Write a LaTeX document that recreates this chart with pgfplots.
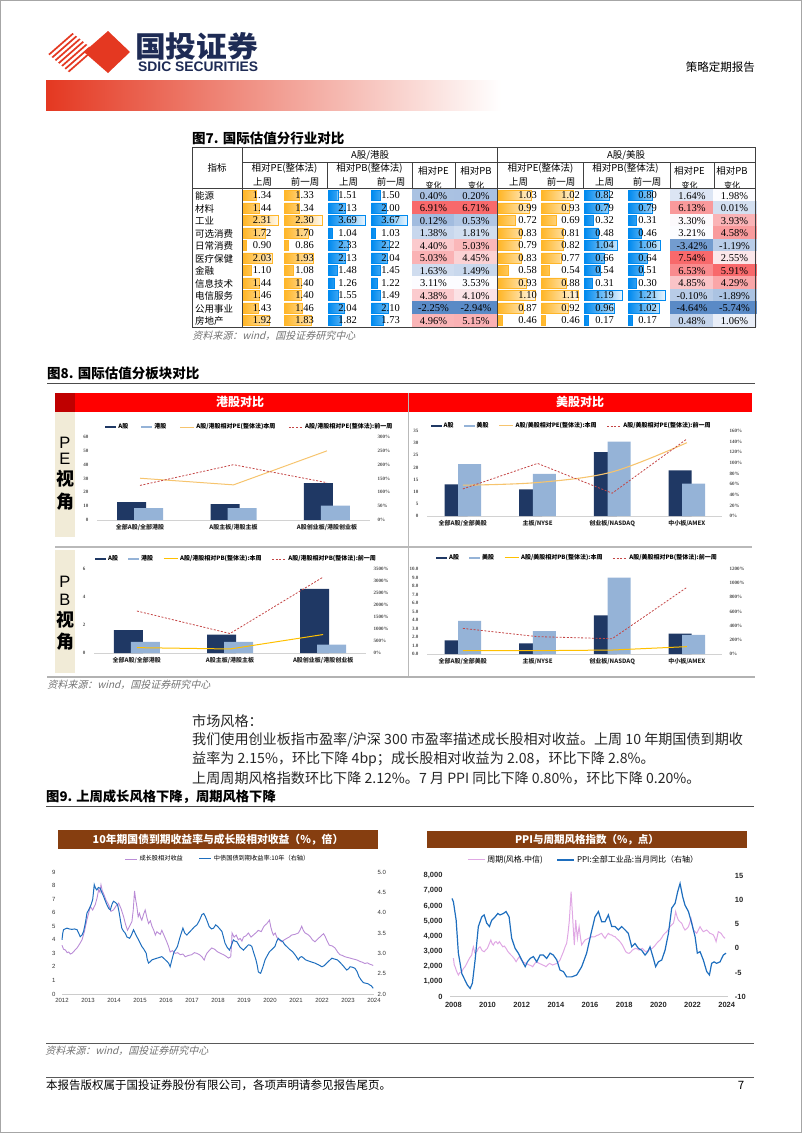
\documentclass[border=0pt]{standalone}
\usepackage{pgfplots}
\pgfplotsset{compat=1.18}
\usepackage{pgfplotstable}
\usepackage{fontspec}
\setmainfont{Liberation Serif}
\setsansfont{Liberation Sans}
\newfontfamily\cjk{Noto Sans CJK SC}
\newcommand\fs[1]{\fontsize{#1}{#1}\selectfont}

\definecolor{logored}{RGB}{228,56,33}
\definecolor{navytxt}{RGB}{30,43,85}
\definecolor{dbar}{RGB}{255,182,40}
\definecolor{bbar}{RGB}{0,138,239}
\definecolor{navyb}{RGB}{31,56,100}
\definecolor{lblue}{RGB}{149,179,215}
\definecolor{lineor}{RGB}{246,196,110}
\definecolor{gold}{RGB}{255,192,0}
\definecolor{dashred}{RGB}{196,70,70}
\definecolor{beige}{RGB}{241,235,215}
\definecolor{brownbar}{RGB}{134,62,16}
\definecolor{purp}{RGB}{186,140,214}
\definecolor{pinkl}{RGB}{224,168,228}
\definecolor{blue9}{RGB}{30,110,190}
\definecolor{heatb}{RGB}{90,138,198}
\definecolor{heatw}{RGB}{252,252,255}
\definecolor{heatr}{RGB}{248,105,107}

\pgfdeclareplotmark{cell}{\pgfpathrectangle{\pgfpoint{-21.5pt}{-6.3pt}}{\pgfpoint{43pt}{12.6pt}}\pgfusepathqfillstroke}

\pgfplotsset{
  every axis/.append style={/pgf/number format/assume math mode=true},
  tblax/.style={scale only axis, hide axis, height=137.5pt, ymin=-0.5, ymax=10.5,
    y dir=reverse, anchor=north west, clip=false},
  combo/.style={scale only axis, anchor=south west, axis x line*=bottom, axis y line*=left,
    y axis line style={draw=none}, x axis line style={draw=gray!35, line width=0.6pt},
    major tick length=0pt, tick label style={font=\bfseries\fs{5}, text=black!70},
    xticklabel style={font=\cjk\bfseries\fs{6}, text=black!85, yshift=-1pt},
    yticklabel style={xshift=-5pt}, clip=false,
    legend style={draw=none, fill=none, font=\cjk\bfseries\fs{6}, legend columns=4,
      /tikz/every even column/.append style={column sep=8pt}},
    legend cell align=left},
  comboR/.style={scale only axis, anchor=south west, axis x line=none, axis y line*=right,
    y axis line style={draw=none}, major tick length=0pt,
    tick label style={font=\bfseries\fs{5}, text=black!70}, yticklabel style={xshift=4pt},
    yticklabel={\pgfmathprintnumber{\tick}\%}, clip=false},
  barleg/.style={legend image code/.code={\fill[##1] (0pt,-1.4pt) rectangle (11pt,1.4pt);}},
  lineleg/.style={legend image code/.code={\draw[##1] (0pt,0pt) -- (14pt,0pt);}},
  ts/.style={scale only axis, anchor=south west, axis x line*=bottom, axis y line*=left,
    y axis line style={draw=none}, x axis line style={draw=gray!40, line width=0.6pt},
    major tick length=0pt, clip=false},
  tsR/.style={scale only axis, anchor=south west, axis x line=none, axis y line*=right,
    y axis line style={draw=none}, major tick length=0pt, clip=false},
}

% industry valuation table: A/HK and A/US, this week (1) and week before (0)
\pgfplotstableread{
row hkpe1 hkpe0 hkpb1 hkpb0 hkdpe hkdpb uspe1 uspe0 uspb1 uspb0 usdpe usdpb
0  1.34 1.33 1.51 1.50  0.40  0.20 1.03 1.02 0.82 0.80  1.64  1.98
1  1.44 1.34 2.13 2.00  6.91  6.71 0.99 0.93 0.79 0.79  6.13  0.01
2  2.31 2.30 3.69 3.67  0.12  0.53 0.72 0.69 0.32 0.31  3.30  3.93
3  1.72 1.70 1.04 1.03  1.38  1.81 0.83 0.81 0.48 0.46  3.21  4.58
4  0.90 0.86 2.33 2.22  4.40  5.03 0.79 0.82 1.04 1.06 -3.42 -1.19
5  2.03 1.93 2.13 2.04  5.03  4.45 0.83 0.77 0.66 0.64  7.54  2.55
6  1.10 1.08 1.48 1.45  1.63  1.49 0.58 0.54 0.54 0.51  6.53  5.91
7  1.44 1.40 1.26 1.22  3.11  3.53 0.93 0.88 0.31 0.30  4.85  4.29
8  1.46 1.40 1.55 1.49  4.38  4.10 1.10 1.11 1.19 1.21 -0.10 -1.89
9  1.43 1.46 2.04 2.10 -2.25 -2.94 0.87 0.92 0.96 1.02 -4.64 -5.74
10 1.92 1.83 1.82 1.73  4.96  5.15 0.46 0.46 0.17 0.17  0.48  1.06
}\valtab

% data bar column: left, width, xmin, xmax, colour, column, label shift
\newcommand\barcol[7]{%
\begin{axis}[tblax, at={(#1pt,-189pt)}, width=#2pt, xmin=#3, xmax=#4,
  x coord trafo/.code={\pgfmathparse{##1-#3}}]
\addplot[xbar, bar width=10pt, draw=#5, line width=0.4pt, left color=#5, right color=#5!8]
  table[x=#6, y=row]{\valtab};
\addplot[draw=none, point meta=explicit,
  nodes near coords={\pgfmathprintnumber[fixed,fixed zerofill,precision=2]{\pgfplotspointmeta}},
  every node near coord/.style={anchor=east, inner sep=0pt, font=\fs{10.5}, text=black, xshift=#7pt}]
  table[x expr=#4, y=row, meta=#6]{\valtab};
\end{axis}}

% three-colour scale column (min blue, median white, max red): centre x, column, min, median, max
\newcommand\heatcol[5]{%
\begin{axis}[tblax, anchor=north, at={(#1pt,-189pt)}, width=43pt, xmin=-0.5, xmax=0.5,
  colormap={heat}{color=(heatb) color=(heatw) color=(heatr)}, point meta min=-1, point meta max=1]
\addplot[scatter, only marks, mark=cell, line width=0.3pt,
  scatter/use mapped color={draw=mapped color, fill=mapped color},
  point meta={ifthenelse(\thisrow{#2}<#4, (\thisrow{#2}-(#4))/((#4)-(#3)), (\thisrow{#2}-(#4))/((#5)-(#4)))}]
  table[x expr=0, y=row]{\valtab};
\addplot[draw=none, point meta=explicit,
  nodes near coords={\pgfmathprintnumber[fixed,fixed zerofill,precision=2]{\pgfplotspointmeta}\%},
  every node near coord/.style={anchor=center, inner sep=0pt, font=\fs{10.5}, text=black, yshift=-0.5pt}]
  table[x expr=0, y=row, meta=#2]{\valtab};
\end{axis}}

\newcommand\srcnote[2]{\begin{scope}[shift={(#1,#2)}, xslant=0.25]
\node[transform shape, anchor=west, inner sep=0, font=\cjk\fs{10}, text=black!55] at (0,0)
  {资料来源：wind，国投证券研究中心};\end{scope}}

\begin{document}
\begin{tikzpicture}[x=1pt,y=1pt]
\path (0,0) rectangle (802,-1133);
\draw[gray!70, line width=1.2pt] (0.6,-0.6) rectangle (801.4,-1132.4);

% ---- header
\begin{scope}
\clip (46,-52) -- (70,-31) -- (96,-52) -- (70,-73) -- cycle;
\foreach \i in {0,...,9} \draw[logored, line width=1.7pt] ({20+6.5*\i},-80) -- ++(60,52.5);
\end{scope}
\fill[logored] (84,-52) -- (108,-31) -- (130,-52) -- (108,-73) -- cycle;
\node[anchor=west, inner sep=0, text=navytxt] at (135,-46)
  {\resizebox{123pt}{25pt}{\cjk\bfseries 国投证券}};
\node[anchor=west, inner sep=0, text=navytxt] at (138,-66.5)
  {\resizebox{120pt}{!}{\sffamily\bfseries SDIC SECURITIES}};
\node[anchor=east, inner sep=0, font=\cjk\fs{11.5}] at (755,-67) {策略定期报告};
\shade[left color=logored, right color=white] (46,-80) rectangle (501,-110);

% ---- figure 7
\node[anchor=west, inner sep=0, font=\cjk\bfseries\fs{13.5}] at (192,-138) {图7. 国际估值分行业对比};
\begin{scope}[font=\cjk\fs{9.5}]
\node at (217,-168) {指标};
\node at (370,-155) {A股/港股};
\node at (626,-155) {A股/美股};
\foreach \o in {0,256} {
  \node at (284.5+\o,-168) {相对PE(整体法)};
  \node at (262.5+\o,-182) {上周};
  \node at (305+\o,-182) {前一周};
  \node at (369.5+\o,-168) {相对PB(整体法)};
  \node at (348.5+\o,-182) {上周};
  \node at (391+\o,-182) {前一周};
  \node at (433.5+\o,-171) {相对PE};
  \node at (476+\o,-171) {相对PB};
  \node[font=\cjk\fs{8}] at (433.5+\o,-185.5) {变化};
  \node[font=\cjk\fs{8}] at (476+\o,-185.5) {变化};
}
\foreach \n [count=\i from 0] in {能源,材料,工业,可选消费,日常消费,医疗保健,金融,信息技术,电信服务,公用事业,房地产}
  \node[anchor=west, inner sep=0] at (195,{-196-12.5*\i}) {\n};
\end{scope}

\barcol{243.5}{38}{0.76}{2.45}{dbar}{hkpe1}{-10}
\barcol{284.5}{41}{0.716}{2.444}{dbar}{hkpe0}{-11.5}
\barcol{328.5}{40}{0.775}{3.955}{bbar}{hkpb1}{-11.5}
\barcol{371.5}{39}{0.766}{3.934}{bbar}{hkpb0}{-10.5}
\barcol{498.5}{40}{0.396}{1.164}{dbar}{uspe1}{-1.5}
\barcol{541.5}{40}{0.395}{1.175}{dbar}{uspe0}{-1.5}
\barcol{584.5}{41}{0.068}{1.292}{bbar}{uspb1}{-11.5}
\barcol{628.5}{40}{0.066}{1.314}{bbar}{uspb0}{-11.5}
\heatcol{433.5}{hkdpe}{-2.25}{3.11}{6.91}
\heatcol{476}{hkdpb}{-2.94}{3.53}{6.71}
\heatcol{692}{usdpe}{-4.64}{3.21}{7.54}
\heatcol{734.5}{usdpb}{-5.74}{1.98}{5.91}

\begin{scope}[draw=black!75, line width=0.6pt]
\draw (192,-147) rectangle (755,-327);
\draw (242,-147) -- (242,-327);
\draw (497,-147) -- (497,-327);
\draw (242,-162) -- (755,-162);
\draw[line width=1pt] (192,-188.5) -- (755,-188.5);
\foreach \x in {327,412,455,583,670,714} \draw (\x,-162) -- (\x,-188.5);
\end{scope}
\srcnote{193}{-336}

% ---- figure 8
\node[anchor=west, inner sep=0, font=\cjk\bfseries\fs{13.5}] at (47,-373) {图8. 国际估值分板块对比};
\draw[black!70, line width=1pt] (47,-383) -- (755,-383);
\fill[red!100] (55,-393) rectangle (408,-411.5);
\fill[red!75!black] (55,-393) rectangle (75,-411.5);
\fill[red!100] (409,-393) rectangle (752,-411.5);
\node[text=white, font=\cjk\bfseries\fs{12}] at (240,-402) {港股对比};
\node[text=white, font=\cjk\bfseries\fs{12}] at (580,-402) {美股对比};
\fill[beige] (55,-411.5) rectangle (75,-537);
\fill[beige] (55,-550) rectangle (75,-673);
\draw[gray!55, line width=1.4pt] (55,-547) -- (752,-547);
\draw[gray!55, line width=1pt] (408.5,-393) -- (408.5,-677);
\draw[gray!60, line width=1.4pt] (47,-677) -- (755,-677);
\begin{scope}[font=\sffamily\fs{16.5}, inner sep=0pt]
\node at (65,-443) {P}; \node at (65,-459) {E};
\node at (65,-582) {P}; \node at (65,-600) {B};
\end{scope}
\begin{scope}[font=\cjk\bfseries\fs{18}, inner sep=0pt]
\node at (65,-479) {视}; \node at (65,-502) {角};
\node at (65,-620) {视}; \node at (65,-642) {角};
\end{scope}

% HK PE
\begin{axis}[combo, at={(97pt,-520pt)}, width=273pt, height=83pt, xmin=-0.46, xmax=2.46,
  ymin=0, ymax=60, ytick={0,10,...,60}, xtick={0,1,2},
  xticklabels={全部A股/全部港股,A股主板/港股主板,A股创业板/港股创业板},
  legend style={at={(0.56,1.12)}, anchor=center, /tikz/every even column/.append style={column sep=11pt}}]
\addplot[ybar, bar width=29pt, bar shift=-8.5pt, fill=navyb, draw=none, barleg]
  coordinates {(0,13.0) (1,11.4) (2,26.6)};
\addplot[ybar, bar width=29pt, bar shift=8.5pt, fill=lblue, draw=none, barleg]
  coordinates {(0,8.5) (1,8.5) (2,10.4)};
\addlegendimage{lineleg, lineor, line width=1pt}
\addlegendimage{lineleg, dashred, line width=0.8pt, dash pattern=on 2pt off 1.6pt}
\legend{A股,港股,A股/港股相对PE(整体法)本周,A股/港股相对PE(整体法):前一周}
\end{axis}
\begin{axis}[comboR, at={(97pt,-520pt)}, width=273pt, height=83pt, xmin=-0.46, xmax=2.46,
  ymin=0, ymax=300, ytick={0,50,...,300}]
\addplot[lineor, line width=1pt] coordinates {(0,151) (1,127) (2,250)};
\addplot[dashred, line width=0.8pt, dash pattern=on 2pt off 1.6pt] coordinates {(0,125) (1,200) (2,135)};
\end{axis}

% HK PB
\begin{axis}[combo, at={(94pt,-653pt)}, width=272pt, height=84pt, xmin=-0.46, xmax=2.46,
  ymin=0, ymax=6, ytick={0,2,4,6}, xtick={0,1,2},
  xticklabels={全部A股/全部港股,A股主板/港股主板,A股创业板/港股创业板},
  legend style={at={(0.524,1.12)}, anchor=center}]
\addplot[ybar, bar width=29pt, bar shift=-8.5pt, fill=navyb, draw=none, barleg]
  coordinates {(0,1.63) (1,1.32) (2,4.58)};
\addplot[ybar, bar width=29pt, bar shift=8.5pt, fill=lblue, draw=none, barleg]
  coordinates {(0,0.79) (1,0.79) (2,0.60)};
\addlegendimage{lineleg, gold, line width=1pt}
\addlegendimage{lineleg, dashred, line width=0.8pt, dash pattern=on 2pt off 1.6pt}
\legend{A股,港股,A股/港股相对PB(整体法):本周,A股/港股相对PB(整体法):前一周}
\end{axis}
\begin{axis}[comboR, at={(94pt,-653pt)}, width=272pt, height=84pt, xmin=-0.46, xmax=2.46,
  ymin=0, ymax=3500, ytick={0,500,...,3500}, /pgf/number format/1000 sep={}]
\addplot[gold, line width=1pt] coordinates {(0,224) (1,168) (2,770)};
\addplot[dashred, line width=0.8pt, dash pattern=on 2pt off 1.6pt] coordinates {(0,1750) (1,812) (2,3164)};
\end{axis}

% US PE
\begin{axis}[combo, at={(427pt,-516pt)}, width=295pt, height=85pt, xmin=-0.48, xmax=3.47,
  ymin=0, ymax=35, ytick={0,5,...,35}, xtick={0,1,2,3},
  xticklabels={全部A股/全部美股,主板/NYSE,创业板/NASDAQ,中小板/AMEX},
  legend style={at={(0.49,1.06)}, anchor=center}]
\addplot[ybar, bar width=23pt, bar shift=-6.8pt, fill=navyb, draw=none, barleg]
  coordinates {(0,13.0) (1,11.0) (2,26.3) (3,18.8)};
\addplot[ybar, bar width=23pt, bar shift=6.8pt, fill=lblue, draw=none, barleg]
  coordinates {(0,21.4) (1,17.3) (2,30.6) (3,13.3)};
\addlegendimage{lineleg, lineor, line width=1pt}
\addlegendimage{lineleg, dashred, line width=0.8pt, dash pattern=on 2pt off 1.6pt}
\legend{A股,美股,A股/美股相对PE(整体法):本周,A股/美股相对PE(整体法):前一周}
\end{axis}
\begin{axis}[comboR, at={(427pt,-516pt)}, width=295pt, height=85pt, xmin=-0.48, xmax=3.47,
  ymin=0, ymax=160, ytick={0,20,...,160}]
\addplot[lineor, line width=1.1pt, smooth, tension=0.55] coordinates {(0,58) (1,63) (2,83) (3,138)};
\addplot[dashred, line width=0.8pt, dash pattern=on 2pt off 1.6pt] coordinates {(0,51) (1,99) (2,43) (3,145)};
\end{axis}

% US PB
\begin{axis}[combo, at={(427pt,-654pt)}, width=295pt, height=85pt, xmin=-0.48, xmax=3.47,
  ymin=0, ymax=10, ytick={0,1,...,10}, xtick={0,1,2,3},
  yticklabel style={/pgf/number format/.cd, fixed, fixed zerofill, precision=1},
  xticklabels={全部A股/全部美股,主板/NYSE,创业板/NASDAQ,中小板/AMEX},
  legend style={at={(0.51,1.13)}, anchor=center}]
\addplot[ybar, bar width=23pt, bar shift=-6.8pt, fill=navyb, draw=none, barleg]
  coordinates {(0,1.6) (1,1.25) (2,4.55) (3,2.4)};
\addplot[ybar, bar width=23pt, bar shift=6.8pt, fill=lblue, draw=none, barleg]
  coordinates {(0,3.9) (1,2.7) (2,9.0) (3,2.25)};
\addlegendimage{lineleg, gold, line width=1pt}
\addlegendimage{lineleg, dashred, line width=0.8pt, dash pattern=on 2pt off 1.6pt}
\legend{A股,美股,A股/美股相对PB(整体法):本周,A股/美股相对PB(整体法):前一周}
\end{axis}
\begin{axis}[comboR, at={(427pt,-654pt)}, width=295pt, height=85pt, xmin=-0.48, xmax=3.47,
  ymin=0, ymax=1200, ytick={0,200,...,1200}, /pgf/number format/1000 sep={}]
\addplot[gold, line width=1pt] coordinates {(0,47) (1,47) (2,56) (3,104)};
\addplot[dashred, line width=0.8pt, dash pattern=on 2pt off 1.6pt] coordinates {(0,362) (1,245) (2,216) (3,941)};
\end{axis}
\srcnote{48}{-685}

% ---- text
\begin{scope}[font=\cjk\fs{14.1}, text=black!85]
\node[anchor=west, inner sep=0] at (192,-721) {市场风格：};
\node[anchor=west, inner sep=0] at (192,-740) {我们使用创业板指市盈率/沪深 300 市盈率描述成长股相对收益。上周 10 年期国债到期收};
\node[anchor=west, inner sep=0] at (192,-759) {益率为 2.15\%，环比下降 4bp；成长股相对收益为 2.08，环比下降 2.8\%。};
\node[anchor=west, inner sep=0] at (192,-778) {上周周期风格指数环比下降 2.12\%。7 月 PPI 同比下降 0.80\%，环比下降 0.20\%。};
\end{scope}
\node[anchor=west, inner sep=0, font=\cjk\bfseries\fs{13.3}] at (46,-797) {图9. 上周成长风格下降，周期风格下降};
\draw[black!70, line width=1pt] (46,-806) -- (754,-806);

% ---- figure 9 left
\fill[brownbar] (58,-830) rectangle (378,-849);
\node[text=white, font=\cjk\bfseries\fs{10.8}] at (218,-839.5) {10年期国债到期收益率与成长股相对收益（\%，倍）};
\begin{axis}[ts, at={(62pt,-994pt)}, width=312pt, height=122pt, xmin=2012, xmax=2024,
  ymin=0, ymax=9, xtick={2012,...,2024}, ytick={0,...,9},
  tick label style={font=\sffamily\fs{6}, text=black!80},
  xticklabel style={/pgf/number format/1000 sep={}, yshift=-1pt}, yticklabel style={xshift=-3pt},
  legend style={at={(0.5,1.107)}, anchor=center, draw=none, fill=none, legend columns=2,
    font=\cjk\fs{6.2}, /tikz/every even column/.append style={column sep=14pt}},
  legend image code/.code={\draw[#1] (0pt,0pt) -- (12pt,0pt);}]
\addplot[purp, line width=0.9pt] coordinates {
(2012.00,3.6) (2012.06,3.3) (2012.13,3.25) (2012.2,3.05) (2012.26,3.1) (2012.32,2.95) (2012.38,3.0)
(2012.48,3.2) (2012.58,3.4) (2012.68,3.7) (2012.77,4.0) (2012.86,4.6) (2012.96,5.5) (2013.03,6.0)
(2013.09,6.45) (2013.18,6.2) (2013.28,6.6) (2013.35,7.1) (2013.41,7.7) (2013.46,7.5) (2013.50,8.05)
(2013.55,7.6) (2013.60,7.4) (2013.70,6.9) (2013.79,6.6) (2013.88,6.1) (2013.98,6.2) (2014.08,6.5)
(2014.18,6.7) (2014.27,6.3) (2014.37,5.7) (2014.45,5.1) (2014.52,4.7) (2014.60,5.0) (2014.69,5.35)
(2014.74,6.2) (2014.79,7.6) (2014.83,7.0) (2014.88,6.45) (2014.93,5.7) (2014.98,5.95) (2015.03,5.6)
(2015.07,5.45) (2015.14,5.9) (2015.20,6.2) (2015.27,5.6) (2015.33,5.2) (2015.40,5.4) (2015.46,5.0)
(2015.53,4.7) (2015.59,4.35) (2015.65,4.6) (2015.71,4.5) (2015.78,4.4) (2015.84,4.7) (2015.93,4.3)
(2016.03,3.85) (2016.10,3.5) (2016.16,3.1) (2016.25,3.2) (2016.35,3.0) (2016.45,3.05) (2016.55,2.9)
(2016.65,2.95) (2016.74,2.75) (2016.87,2.85) (2016.99,2.9) (2017.09,3.05) (2017.19,3.0) (2017.29,2.9)
(2017.38,2.75) (2017.47,2.5) (2017.52,2.8) (2017.57,3.0) (2017.66,3.2) (2017.76,3.4) (2017.87,3.3)
(2017.99,3.1) (2018.10,3.0) (2018.21,2.9) (2018.30,2.8) (2018.40,2.65) (2018.49,2.75) (2018.52,3.6)
(2018.54,4.5) (2018.62,4.2) (2018.70,4.35) (2018.78,4.0) (2018.85,4.1) (2018.92,3.9) (2018.98,4.2)
(2019.08,4.3) (2019.17,4.5) (2019.27,4.2) (2019.36,4.35) (2019.45,4.5) (2019.55,4.7) (2019.66,4.6)
(2019.77,5.0) (2019.88,5.2) (2019.98,5.45) (2020.03,4.95) (2020.08,4.6) (2020.13,4.35) (2020.20,4.5)
(2020.26,4.2) (2020.35,4.0) (2020.45,3.85) (2020.55,4.0) (2020.64,4.1) (2020.74,4.2) (2020.83,4.35)
(2020.96,4.4) (2021.09,4.5) (2021.15,4.7) (2021.22,5.0) (2021.28,4.7) (2021.35,4.5) (2021.45,4.4)
(2021.54,4.25) (2021.63,4.0) (2021.73,3.85) (2021.86,4.1) (2022.00,4.35) (2022.06,4.45) (2022.12,4.25)
(2022.20,3.9) (2022.28,3.6) (2022.39,3.55) (2022.50,3.4) (2022.60,3.1) (2022.69,2.9) (2022.78,2.85)
(2022.88,2.75) (2022.98,2.7) (2023.08,2.65) (2023.17,2.6) (2023.27,2.55) (2023.36,2.5) (2023.46,2.4)
(2023.55,2.35) (2023.65,2.25) (2023.74,2.3) (2023.84,2.2) (2023.92,2.15) (2023.97,2.1)};
\addlegendentry{成长股相对收益}
\addlegendimage{blue9, line width=1pt}
\addlegendentry{中债国债到期收益率:10年（右轴）}
\end{axis}
\begin{axis}[tsR, at={(62pt,-994pt)}, width=312pt, height=122pt, xmin=2012, xmax=2024,
  ymin=2, ymax=5, ytick={2,2.5,...,5},
  tick label style={font=\sffamily\fs{6}, text=black!80},
  yticklabel style={/pgf/number format/.cd, fixed, fixed zerofill, precision=1}]
\addplot[blue9, line width=1pt] coordinates {
(2012.00,3.33) (2012.03,3.5) (2012.06,3.58) (2012.12,3.6) (2012.19,3.62) (2012.28,3.6) (2012.38,3.59)
(2012.48,3.6) (2012.58,3.58) (2012.64,3.5) (2012.70,3.41) (2012.77,3.45) (2012.83,3.54) (2012.90,3.75)
(2012.96,3.99) (2013.01,4.05) (2013.06,4.11) (2013.12,4.2) (2013.18,4.32) (2013.21,4.5) (2013.24,4.69)
(2013.29,4.6) (2013.34,4.56) (2013.40,4.62) (2013.47,4.6) (2013.53,4.5) (2013.60,4.4) (2013.66,4.3)
(2013.73,4.19) (2013.80,4.1) (2013.86,4.07) (2013.92,4.2) (2013.98,4.28) (2014.06,4.25) (2014.14,4.19)
(2014.20,4.0) (2014.25,3.8) (2014.30,3.62) (2014.36,3.55) (2014.43,3.5) (2014.50,3.4) (2014.60,3.37)
(2014.67,3.45) (2014.75,3.58) (2014.81,3.5) (2014.88,3.41) (2014.97,3.3) (2015.07,3.17) (2015.15,3.1)
(2015.24,3.0) (2015.28,2.85) (2015.33,2.76) (2015.40,2.8) (2015.46,2.84) (2015.55,2.86) (2015.65,2.88)
(2015.75,2.9) (2015.84,2.92) (2015.96,2.85) (2016.04,2.8) (2016.10,2.76) (2016.16,2.67) (2016.23,2.85)
(2016.31,3.04) (2016.38,3.1) (2016.44,3.17) (2016.54,3.4) (2016.65,3.62) (2016.72,3.5) (2016.80,3.45)
(2016.90,3.52) (2016.99,3.58) (2017.09,3.65) (2017.19,3.7) (2017.28,3.8) (2017.38,3.95) (2017.45,3.98)
(2017.51,3.91) (2017.58,3.8) (2017.66,3.66) (2017.75,3.6) (2017.83,3.62) (2017.91,3.7) (2017.99,3.66)
(2018.07,3.6) (2018.15,3.54) (2018.21,3.4) (2018.27,3.25) (2018.35,3.15) (2018.44,3.08) (2018.52,3.2)
(2018.59,3.33) (2018.65,3.3) (2018.72,3.29) (2018.85,3.15) (2018.98,3.08) (2019.08,3.15) (2019.17,3.21)
(2019.24,3.2) (2019.30,3.17) (2019.38,3.0) (2019.46,2.84) (2019.51,2.7) (2019.55,2.55) (2019.60,2.52)
(2019.64,2.51) (2019.72,2.65) (2019.81,2.84) (2019.90,2.95) (2019.98,3.04) (2020.08,3.1) (2020.19,3.17)
(2020.26,3.3) (2020.32,3.37) (2020.40,3.32) (2020.49,3.29) (2020.56,3.22) (2020.64,3.17) (2020.75,3.1)
(2020.87,3.04) (2020.98,2.95) (2021.09,2.84) (2021.15,2.9) (2021.22,2.92) (2021.30,2.88) (2021.37,2.84)
(2021.45,2.82) (2021.54,2.8) (2021.63,2.78) (2021.73,2.76) (2021.86,2.72) (2022.00,2.67) (2022.09,2.7)
(2022.18,2.76) (2022.28,2.82) (2022.38,2.88) (2022.48,2.86) (2022.59,2.84) (2022.69,2.78) (2022.79,2.71)
(2022.87,2.65) (2022.95,2.59) (2023.02,2.62) (2023.08,2.67) (2023.17,2.66) (2023.27,2.63) (2023.35,2.55)
(2023.42,2.43) (2023.50,2.35) (2023.59,2.28) (2023.65,2.27) (2023.72,2.26) (2023.78,2.25) (2023.84,2.22)
(2023.90,2.2) (2023.97,2.14)};
\end{axis}

% ---- figure 9 right
\fill[brownbar] (427,-831) rectangle (747,-848);
\node[text=white, font=\cjk\bfseries\fs{10.5}] at (587,-839.5) {PPI与周期风格指数（\%，点）};
\begin{axis}[ts, at={(450pt,-996.7pt)}, width=278.4pt, height=121pt, xmin=2007.8, xmax=2024.1,
  ymin=0, ymax=8000, xtick={2008,2010,...,2024}, ytick={0,1000,...,8000},
  tick label style={font=\sffamily\bfseries\fs{7.5}, text=black!85},
  xticklabel style={/pgf/number format/1000 sep={}, yshift=-2pt}, yticklabel style={xshift=-4pt},
  legend style={at={(0.48,1.13)}, anchor=center, draw=none, fill=none, legend columns=2,
    font=\cjk\fs{8}, /tikz/every even column/.append style={column sep=12pt}},
  legend image code/.code={\draw[#1] (0pt,0pt) -- (17pt,0pt);}]
\addplot[pinkl, line width=1pt] coordinates {
(2008.00,2550) (2008.05,2100) (2008.10,1980) (2008.18,1700) (2008.29,1430) (2008.38,1600) (2008.49,1650)
(2008.58,1850) (2008.68,1980) (2008.78,2200) (2008.88,2420) (2008.97,2600) (2009.07,2750) (2009.12,3100)
(2009.17,3300) (2009.25,2900) (2009.37,2975) (2009.46,3200) (2009.56,3300) (2009.68,3050) (2009.80,2975)
(2009.90,3100) (2009.99,3200) (2010.10,3500) (2010.19,3750) (2010.27,3500) (2010.34,3420) (2010.42,3600)
(2010.50,3640) (2010.60,3500) (2010.69,3640) (2010.80,3450) (2010.89,3300) (2010.98,3350) (2011.08,3200)
(2011.18,3000) (2011.28,2865) (2011.38,2750) (2011.47,2645) (2011.57,2500) (2011.67,2315) (2011.77,2500)
(2011.86,2645) (2011.96,2450) (2012.06,2315) (2012.15,2250) (2012.25,2200) (2012.35,2150) (2012.45,2095)
(2012.55,2050) (2012.64,1980) (2012.74,2150) (2012.84,2315) (2012.94,2250) (2013.03,2200) (2013.13,2150)
(2013.23,2095) (2013.33,2050) (2013.42,1980) (2013.52,2100) (2013.62,2200) (2013.72,2150) (2013.81,2095)
(2013.93,2150) (2014.05,2200) (2014.15,2300) (2014.24,2420) (2014.34,2700) (2014.44,2975) (2014.54,3300)
(2014.63,3530) (2014.71,4200) (2014.79,5070) (2014.85,6200) (2014.89,6940) (2014.94,6000) (2014.99,5070)
(2015.04,4100) (2015.08,3420) (2015.12,4300) (2015.16,5070) (2015.21,4400) (2015.26,3860) (2015.31,4300)
(2015.36,4630) (2015.44,3900) (2015.51,3420) (2015.61,3600) (2015.71,3750) (2015.80,3800) (2015.90,3860)
(2016.00,3900) (2016.10,3970) (2016.20,3950) (2016.29,3970) (2016.39,4050) (2016.49,4080) (2016.59,4150)
(2016.68,4190) (2016.78,4000) (2016.88,3860) (2016.98,4050) (2017.07,4190) (2017.17,4100) (2017.27,4080)
(2017.37,4000) (2017.46,3970) (2017.56,3850) (2017.66,3750) (2017.78,3600) (2017.89,3420) (2017.99,3200)
(2018.09,2975) (2018.18,2900) (2018.28,2865) (2018.38,2950) (2018.48,3085) (2018.58,3150) (2018.67,3200)
(2018.77,3150) (2018.87,3085) (2018.97,3150) (2019.06,3200) (2019.16,3080) (2019.26,2975) (2019.36,3030)
(2019.45,3085) (2019.55,3150) (2019.65,3200) (2019.78,3350) (2019.90,3530) (2020.00,3650) (2020.10,3750)
(2020.20,3900) (2020.29,4080) (2020.39,4200) (2020.49,4300) (2020.58,4450) (2020.68,4630) (2020.78,4750)
(2020.88,4850) (2020.95,5200) (2021.01,5620) (2021.09,5300) (2021.17,5070) (2021.27,4950) (2021.37,4850)
(2021.46,4600) (2021.56,4410) (2021.66,4500) (2021.76,4630) (2021.84,4900) (2021.91,5180) (2021.98,4800)
(2022.05,4410) (2022.15,4300) (2022.24,4190) (2022.34,4400) (2022.44,4630) (2022.53,4450) (2022.63,4300)
(2022.73,4350) (2022.83,4410) (2022.93,4300) (2023.02,4190) (2023.12,4150) (2023.22,4080) (2023.30,3900)
(2023.38,3640) (2023.44,3950) (2023.51,4300) (2023.59,4250) (2023.67,4190) (2023.78,4000) (2023.90,3860)};
\addlegendentry{周期(风格.中信)}
\addlegendimage{blue9, line width=1.2pt}
\addlegendentry{PPI:全部工业品:当月同比（右轴）}
\end{axis}
\begin{axis}[tsR, at={(450pt,-996.7pt)}, width=278.4pt, height=121pt, xmin=2007.8, xmax=2024.1,
  ymin=-10, ymax=15, ytick={-10,-5,...,15},
  tick label style={font=\sffamily\bfseries\fs{7.5}, text=black!85}, yticklabel style={xshift=3pt}]
\addplot[blue9, line width=1.2pt] coordinates {
(2007.92,10.3) (2008.00,9.6) (2008.16,5.8) (2008.29,-1.0) (2008.49,-5.2) (2008.68,-6.6) (2008.82,-7.6)
(2008.98,-8.3) (2009.11,-7.2) (2009.27,-2.4) (2009.46,4.5) (2009.66,6.5) (2009.80,6.9) (2009.95,5.2)
(2010.11,4.5) (2010.24,5.8) (2010.44,6.5) (2010.60,7.2) (2010.73,6.9) (2010.93,7.2) (2011.08,7.6)
(2011.26,6.5) (2011.41,2.1) (2011.61,0.0) (2011.80,-1.0) (2012.00,-2.4) (2012.20,-3.8) (2012.33,-2.8)
(2012.49,-2.1) (2012.68,-1.7) (2012.88,-2.8) (2013.07,-1.4) (2013.27,-1.4) (2013.46,-2.1) (2013.66,-1.0)
(2013.85,-1.4) (2014.05,-2.4) (2014.24,-4.5) (2014.44,-4.8) (2014.63,-5.9) (2014.93,-5.9) (2015.22,-5.5)
(2015.51,-3.8) (2015.80,-1.0) (2016.06,3.1) (2016.29,6.5) (2016.49,7.6) (2016.68,5.5) (2016.88,5.5)
(2017.07,6.9) (2017.27,4.5) (2017.46,4.5) (2017.66,3.8) (2017.85,4.5) (2018.05,3.8) (2018.24,3.1)
(2018.44,0.3) (2018.63,1.0) (2018.83,0.0) (2019.02,-0.4) (2019.22,-1.4) (2019.38,-0.7) (2019.51,0.3)
(2019.71,-2.1) (2019.84,-3.8) (2020.00,-2.8) (2020.20,-2.4) (2020.39,-0.4) (2020.59,3.1) (2020.78,8.3)
(2020.98,9.3) (2021.13,11.7) (2021.27,13.4) (2021.42,10.7) (2021.56,8.9) (2021.76,7.6) (2021.95,5.2)
(2022.15,2.4) (2022.28,-1.0) (2022.44,-0.7) (2022.63,-2.4) (2022.83,-4.8) (2022.99,-5.5) (2023.12,-3.1)
(2023.26,-2.8) (2023.41,-3.1) (2023.61,-2.8) (2023.80,-1.4) (2023.96,-1.0)};
\end{axis}

% ---- footer
\draw[black!65, line width=1pt] (46,-1043) -- (754,-1043);
\srcnote{46}{-1051}
\draw[black!65, line width=1pt] (46,-1077) -- (754,-1077);
\node[anchor=west, inner sep=0, font=\cjk\fs{11.5}] at (46,-1085) {本报告版权属于国投证券股份有限公司，各项声明请参见报告尾页。};
\node[inner sep=0, font=\cjk\fs{11.5}] at (741,-1085) {7};
\end{tikzpicture}
\end{document}
